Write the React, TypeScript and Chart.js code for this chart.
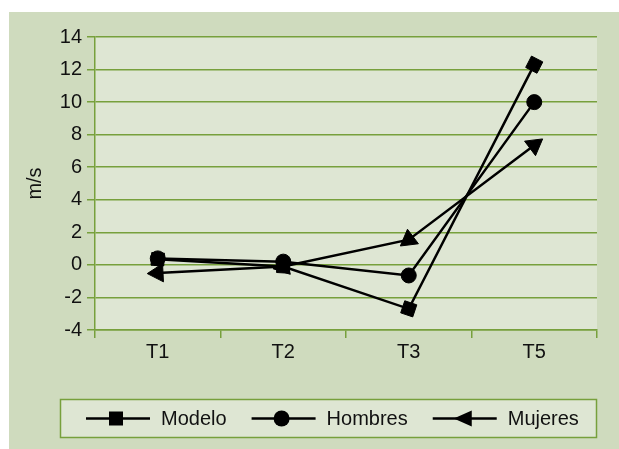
import React, { useEffect, useRef } from 'react';
import { Chart, registerables } from 'chart.js';

Chart.register(...registerables);

// ---- data ----
const categories = ['T1', 'T2', 'T3', 'T5'];
const seriesNames = ['Modelo', 'Hombres', 'Mujeres'];
const modelo = [0.35, -0.1, -2.7, 12.3];
const hombres = [0.4, 0.2, -0.65, 10.0];
const mujeres = [-0.5, -0.1, 1.55, 7.35];
const yMin = -4;
const yMax = 14;
const yStep = 2;
const yTitle = 'm/s';

// ---- styles ----
const OUTER_BG = '#cfdbbe';
const PLOT_BG = '#dee6d3';
const GREEN = '#77a03c';
const INK = '#111111';
const FONT_FAMILY = '"Liberation Sans", Arial, sans-serif';
const FONT = { family: FONT_FAMILY, size: 20 };

type Mode = 'outward' | 'forward';

function segAngle(ctx: any, mode: Mode, kind: 'tri' | 'rect'): number {
  const chart = ctx.chart;
  const xs = chart.scales && chart.scales.x;
  const ys = chart.scales && chart.scales.y;
  const data = chart.data.datasets[ctx.datasetIndex].data as number[];
  const i = ctx.dataIndex;
  if (!xs || !ys || i === undefined) return 0;
  let from: number, to: number;
  if (mode === 'outward') {
    if (i < data.length - 1) { from = i + 1; to = i; } else { from = i - 1; to = i; }
  } else {
    if (i > 0) { from = i - 1; to = i; } else { from = i; to = i + 1; }
  }
  const dx = xs.getPixelForValue(to) - xs.getPixelForValue(from);
  const dy = ys.getPixelForValue(data[to]) - ys.getPixelForValue(data[from]);
  if (!isFinite(dx) || !isFinite(dy)) return 0;
  if (kind === 'tri') return (Math.atan2(dx, -dy) * 180) / Math.PI;
  return (Math.atan2(dy, dx) * 180) / Math.PI;
}

const backgroundPlugin = {
  id: 'bgPlugin',
  beforeDraw(chart: any) {
    const { ctx, chartArea } = chart;
    ctx.save();
    ctx.fillStyle = OUTER_BG;
    ctx.fillRect(0, 0, chart.width, chart.height);
    ctx.fillStyle = PLOT_BG;
    ctx.fillRect(chartArea.left, chartArea.top, chartArea.right - chartArea.left, chartArea.bottom - chartArea.top);
    ctx.restore();
  },
};

function drawMarker(ctx: CanvasRenderingContext2D, style: string, x: number, y: number) {
  ctx.beginPath();
  if (style === 'rect') {
    ctx.rect(x - 7, y - 7, 14, 14);
  } else if (style === 'circle') {
    ctx.arc(x, y, 8, 0, Math.PI * 2);
  } else {
    // arrow pointing left
    ctx.moveTo(x - 9, y);
    ctx.lineTo(x + 9, y - 8);
    ctx.lineTo(x + 9, y + 8);
    ctx.closePath();
  }
  ctx.fill();
}

const legendBoxPlugin = {
  id: 'legendBox',
  afterDraw(chart: any) {
    const { ctx, chartArea } = chart;
    const left = chartArea.left - 35;
    const right = chartArea.right;
    const top = chart.height - 50;
    const bottom = chart.height - 11;
    ctx.save();
    ctx.fillStyle = PLOT_BG;
    ctx.fillRect(left, top, right - left, bottom - top);
    ctx.strokeStyle = GREEN;
    ctx.lineWidth = 1.5;
    ctx.strokeRect(left + 0.5, top + 0.5, right - left - 1, bottom - top - 1);
    const cy = (top + bottom) / 2;
    let x = left + 26;
    const lineLen = 64;
    ctx.font = `${FONT.size}px ${FONT_FAMILY}`;
    ctx.textBaseline = 'middle';
    ctx.textAlign = 'left';
    chart.data.datasets.forEach((ds: any) => {
      ctx.strokeStyle = '#000';
      ctx.lineWidth = 2.5;
      ctx.beginPath();
      ctx.moveTo(x, cy);
      ctx.lineTo(x + lineLen, cy);
      ctx.stroke();
      ctx.fillStyle = '#000';
      drawMarker(ctx, ds.legendStyle, x + 30, cy);
      ctx.fillStyle = INK;
      const tx = x + lineLen + 11;
      ctx.fillText(ds.label, tx, cy + 1);
      x = tx + ctx.measureText(ds.label).width + 25;
    });
    ctx.restore();
  },
};

export default function App() {
  const canvasRef = useRef<HTMLCanvasElement | null>(null);

  useEffect(() => {
    if (!canvasRef.current) return;
    const common = {
      borderColor: '#000',
      backgroundColor: '#000',
      pointBackgroundColor: '#000',
      pointBorderColor: '#000',
      borderWidth: 2.5,
      pointBorderWidth: 1,
      tension: 0,
      fill: false,
    };
    const chart = new Chart(canvasRef.current, {
      type: 'line',
      data: {
        labels: categories,
        datasets: [
          {
            ...common,
            label: seriesNames[0],
            data: modelo,
            order: 1,
            pointStyle: 'rect',
            pointRadius: 9,
            pointRotation: (c: any) => segAngle(c, 'forward', 'rect'),
            legendStyle: 'rect',
          } as any,
          {
            ...common,
            label: seriesNames[1],
            data: hombres,
            order: 0,
            pointStyle: 'circle',
            pointRadius: 7.5,
            legendStyle: 'circle',
          } as any,
          {
            ...common,
            label: seriesNames[2],
            data: mujeres,
            order: 2,
            pointStyle: 'triangle',
            pointRadius: 10.5,
            pointRotation: (c: any) => segAngle(c, 'outward', 'tri'),
            legendStyle: 'arrow',
          } as any,
        ],
      },
      options: {
        animation: false,
        responsive: true,
        maintainAspectRatio: false,
        events: [],
        layout: { padding: { left: 10, right: 22, top: 25, bottom: 79 } },
        plugins: {
          legend: { display: false },
          tooltip: { enabled: false },
          title: { display: false },
        },
        scales: {
          x: {
            type: 'category',
            offset: true,
            grid: {
              offset: true,
              drawOnChartArea: false,
              drawTicks: true,
              tickLength: 8,
              color: GREEN,
              lineWidth: 1.5,
            },
            border: { color: GREEN, width: 1.5 },
            ticks: { font: FONT, color: INK, padding: 2, maxRotation: 0 },
            afterFit: (s: any) => { s.height = 40; },
          },
          y: {
            min: yMin,
            max: yMax,
            ticks: { stepSize: yStep, font: FONT, color: INK, padding: 5 },
            grid: { color: GREEN, lineWidth: 1.5, tickLength: 8, drawTicks: true },
            border: { color: GREEN, width: 1.5 },
            title: { display: true, text: yTitle, font: FONT, color: INK, padding: { top: 4, bottom: 4 } },
            afterFit: (s: any) => { s.width = 76; },
          },
        },
      } as any,
      plugins: [backgroundPlugin, legendBoxPlugin],
    });
    return () => chart.destroy();
  }, []);

  return (
    <div style={{ position: 'absolute', left: 9, top: 12, width: 610, height: 437, background: OUTER_BG }}>
      <canvas ref={canvasRef} />
    </div>
  );
}
